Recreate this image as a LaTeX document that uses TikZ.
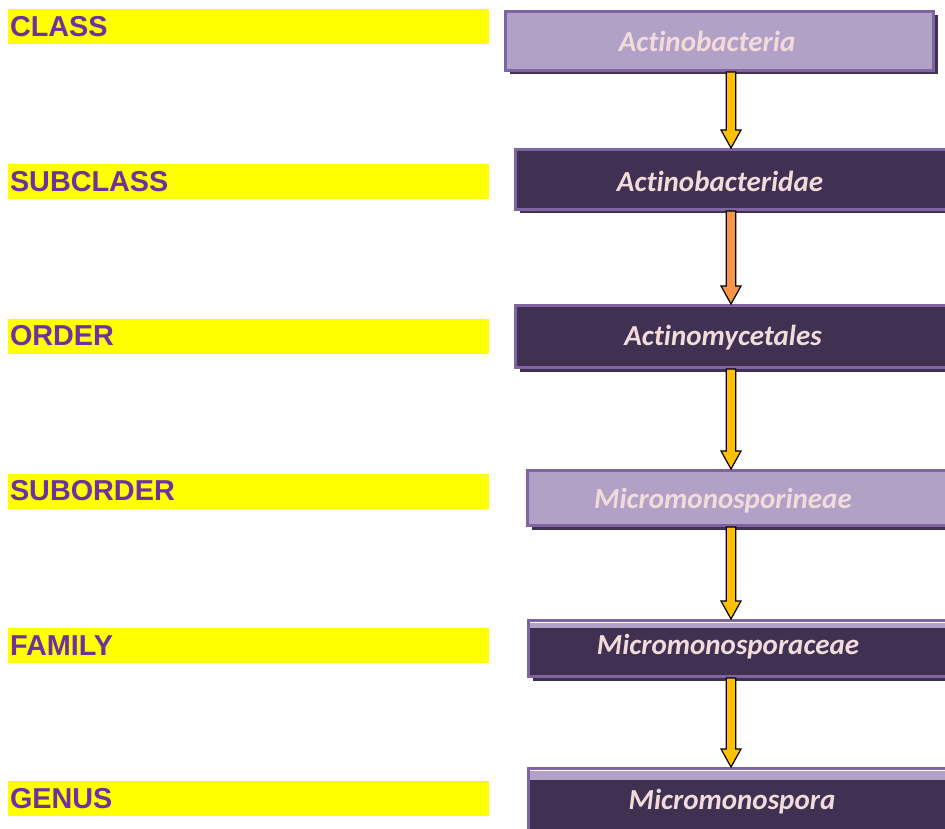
\documentclass[tikz,border=0pt]{standalone}
\usepackage{fontspec}
\setmainfont[Ligatures=NoCommon]{Carlito}
\newfontfamily\rankfont{Liberation Sans}
\usetikzlibrary{calc}
\usetikzlibrary{shadows}
\definecolor{barYellow}{HTML}{FFFF00}
\definecolor{rankPurple}{HTML}{7030A0}
\definecolor{boxLight}{HTML}{B2A1C7}
\definecolor{boxDark}{HTML}{403152}
\definecolor{boxBorder}{HTML}{8064A2}
\definecolor{boxShadow}{HTML}{3F3151}
\definecolor{taxonText}{HTML}{F2DCDB}
\definecolor{arrowYellow}{HTML}{FFC000}
\definecolor{arrowOrange}{HTML}{F79646}
\newcommand{\blockarrow}[3][arrowYellow]{%
	\draw[blockarrow, fill=#1] ($(spine |- #2.south)+(-4.8,0)$) -- ($(spine |- #3.north)+(-4.8,-18)$) -- ++(-5.2,0) -- (spine |- #3.north) -- ($(spine |- #3.north)+(10,-18)$) -- ++(-5.2,0) -- ($(spine |- #2.south)+(4.8,0)$) -- cycle;}

\begin{document}
\begin{tikzpicture}
	[x=1pt,y=-1pt,
	rankbar/.style={fill=barYellow, minimum width=481pt, minimum height=35pt, inner xsep=2pt, inner ysep=0pt, text width=477pt, align=left, text=rankPurple, font=\rankfont\bfseries\fontsize{28.8}{30}\selectfont},
	taxonbox/.style={draw=boxBorder, line width=3pt, inner sep=0pt, drop shadow={shadow xshift=4pt, shadow yshift=-4pt, fill=boxShadow, opacity=1}},
	lightbox/.style={taxonbox, fill=boxLight},
	darkbox/.style={taxonbox, fill=boxDark},
	splitbox/.style={darkbox, path picture={\fill[boxLight] (path picture bounding box.north west) rectangle ([yshift=-#1]path picture bounding box.north east); \draw[white, line width=1pt] ([yshift=-1.5pt]path picture bounding box.north west) -- ([yshift=-1.5pt]path picture bounding box.north east);}},
	taxon/.style={anchor=base, inner sep=0pt, text=taxonText, font=\bfseries\itshape\fontsize{29}{32}\selectfont},
	blockarrow/.style={draw=black, line width=1.2pt, line join=miter}]
	\useasboundingbox (0,0) rectangle (945,829);
	\clip (0,0) rectangle (945,829);
	\coordinate (spine) at (731,0);

	\node[rankbar] (class) at (248.5,26.5) {CLASS};
	\node[rankbar] (subclass) at (248.5,182) {SUBCLASS};
	\node[rankbar] (order) at (248.5,336) {ORDER};
	\node[rankbar] (suborder) at (248.5,491) {SUBORDER};
	\node[rankbar] (family) at (248.5,645.5) {FAMILY};
	\node[rankbar] (genus) at (248.5,798.5) {GENUS};

	\node[lightbox, minimum width=428pt, minimum height=59pt] (actbac) at (719.5,41) {};
	\node[darkbox, minimum width=443pt, minimum height=60pt] (actbacd) at (737,179.5) {};
	\node[darkbox, minimum width=443pt, minimum height=62pt] (actmyc) at (737,336.5) {};
	\node[lightbox, minimum width=431pt, minimum height=55pt] (micsub) at (743,498) {};
	\node[splitbox=7.5pt, minimum width=430pt, minimum height=56pt] (micfam) at (743.5,648.5) {};
	\node[splitbox=11.5pt, minimum width=430pt, minimum height=65pt] (micgen) at (743.5,801) {};

	\node[taxon] (actbac-txt) at (707,52) {Actinobacteria};
	\node[taxon] (actbacd-txt) at (720,192) {Actinobacteridae};
	\node[taxon] (actmyc-txt) at (723,345) {Actinomycetales};
	\node[taxon] (micsub-txt) at (723,508) {Micromonosporineae};
	\node[taxon] (micfam-txt) at (728,654) {Micromonosporaceae};
	\node[taxon] (micgen-txt) at (732,809) {Micromonospora};

	\blockarrow{actbac}{actbacd}
	\blockarrow[arrowOrange]{actbacd}{actmyc}
	\blockarrow{actmyc}{micsub}
	\blockarrow{micsub}{micfam}
	\blockarrow{micfam}{micgen}
\end{tikzpicture}
\end{document}
